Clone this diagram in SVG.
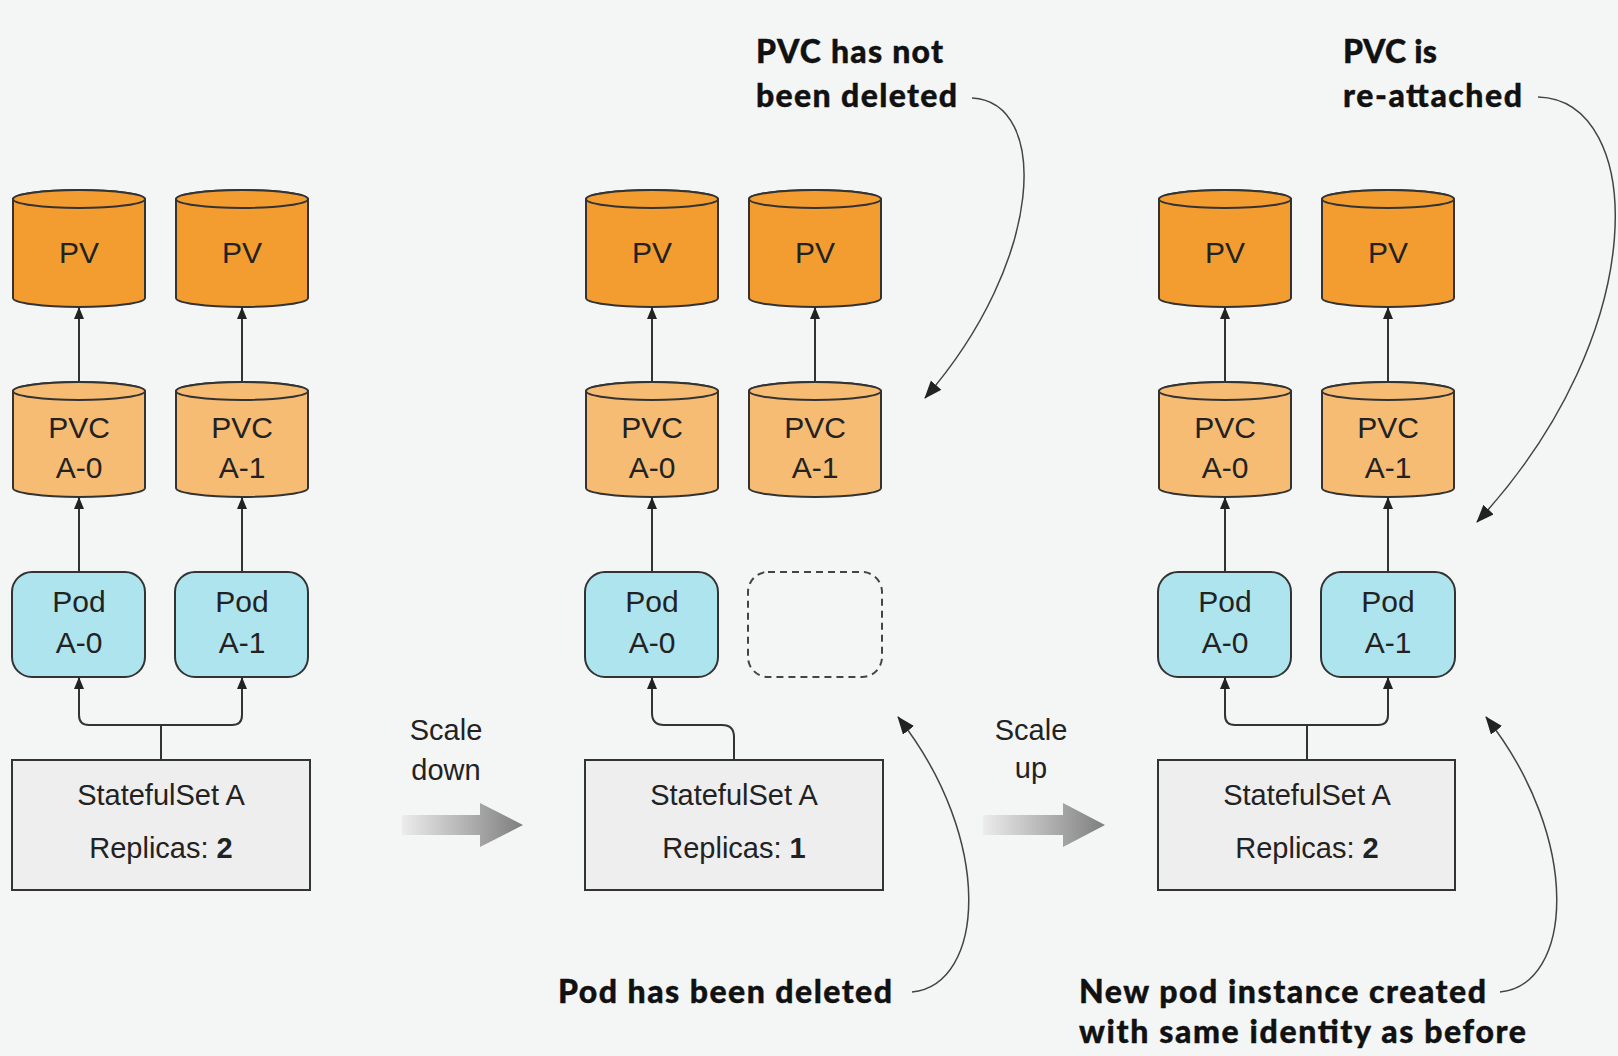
<svg xmlns="http://www.w3.org/2000/svg" width="1618" height="1056" viewBox="0 0 1618 1056">
<style>
.lbl{font-family:"Liberation Sans",Arial,sans-serif;font-size:30px;fill:#222;text-anchor:middle}
.ss{font-family:"Liberation Sans",Arial,sans-serif;font-size:29px;fill:#222;text-anchor:middle}
.note{font-family:Lato,"Open Sans",sans-serif;font-weight:900;font-size:32px;fill:#111;stroke:#111;stroke-width:0.4}
.pv{fill:#f39d31;stroke:#333;stroke-width:2}
.pvc{fill:#f6bc73;stroke:#333;stroke-width:2}
.pod{fill:#aee4ee;stroke:#333;stroke-width:2}
.ghost{fill:none;stroke:#444;stroke-width:2;stroke-dasharray:7 5}
.set{fill:#eeeeee;stroke:#333;stroke-width:2}
.conn{fill:none;stroke:#333;stroke-width:2}
.curve{fill:none;stroke:#444;stroke-width:1.5}
.big{fill:url(#grad)}
</style>
<defs>
<marker id="ah" markerUnits="userSpaceOnUse" markerWidth="12" markerHeight="10" refX="11" refY="5" orient="auto">
<path d="M0,0 L12,5 L0,10 Z" fill="#222"/>
</marker>
<marker id="ah2" markerUnits="userSpaceOnUse" markerWidth="18" markerHeight="14" refX="17" refY="7" orient="auto">
<path d="M0,0 L18,7 L0,14 Z" fill="#222"/>
</marker>
<linearGradient id="grad" x1="0" y1="0" x2="1" y2="0">
<stop offset="0" stop-color="#ececec"/>
<stop offset="1" stop-color="#7e7e7e"/>
</linearGradient>
</defs>
<rect x="0" y="0" width="1618" height="1056" fill="#f4f6f6"/>

<!-- Column 1 -->
<g id="c1-pv0"><path class="pv" d="M13,199 L13,298 A66,9 0 0 0 145,298 L145,199 A66,9 0 0 0 13,199 Z"/><ellipse class="pv" cx="79" cy="199" rx="66" ry="9"/><text class="lbl" x="79" y="263">PV</text></g>
<g id="c1-pv1"><path class="pv" d="M176,199 L176,298 A66,9 0 0 0 308,298 L308,199 A66,9 0 0 0 176,199 Z"/><ellipse class="pv" cx="242" cy="199" rx="66" ry="9"/><text class="lbl" x="242" y="263">PV</text></g>
<g id="c1-pvc0"><path class="pvc" d="M13,391 L13,488 A66,9 0 0 0 145,488 L145,391 A66,9 0 0 0 13,391 Z"/><ellipse class="pvc" cx="79" cy="391" rx="66" ry="9"/><text class="lbl" x="79" y="438">PVC</text><text class="lbl" x="79" y="478">A-0</text></g>
<g id="c1-pvc1"><path class="pvc" d="M176,391 L176,488 A66,9 0 0 0 308,488 L308,391 A66,9 0 0 0 176,391 Z"/><ellipse class="pvc" cx="242" cy="391" rx="66" ry="9"/><text class="lbl" x="242" y="438">PVC</text><text class="lbl" x="242" y="478">A-1</text></g>
<g id="c1-pod0"><rect class="pod" x="12" y="572" width="133" height="105" rx="20"/><text class="lbl" x="79" y="612">Pod</text><text class="lbl" x="79" y="653">A-0</text></g>
<g id="c1-pod1"><rect class="pod" x="175" y="572" width="133" height="105" rx="20"/><text class="lbl" x="242" y="612">Pod</text><text class="lbl" x="242" y="653">A-1</text></g>
<g id="c1-set"><rect class="set" x="12" y="760" width="298" height="130"/><text class="ss" x="161" y="805">StatefulSet A</text><text class="ss" x="161" y="858">Replicas: <tspan font-weight="bold">2</tspan></text></g>

<!-- Column 2 -->
<g id="c2-pv0"><path class="pv" d="M586,199 L586,298 A66,9 0 0 0 718,298 L718,199 A66,9 0 0 0 586,199 Z"/><ellipse class="pv" cx="652" cy="199" rx="66" ry="9"/><text class="lbl" x="652" y="263">PV</text></g>
<g id="c2-pv1"><path class="pv" d="M749,199 L749,298 A66,9 0 0 0 881,298 L881,199 A66,9 0 0 0 749,199 Z"/><ellipse class="pv" cx="815" cy="199" rx="66" ry="9"/><text class="lbl" x="815" y="263">PV</text></g>
<g id="c2-pvc0"><path class="pvc" d="M586,391 L586,488 A66,9 0 0 0 718,488 L718,391 A66,9 0 0 0 586,391 Z"/><ellipse class="pvc" cx="652" cy="391" rx="66" ry="9"/><text class="lbl" x="652" y="438">PVC</text><text class="lbl" x="652" y="478">A-0</text></g>
<g id="c2-pvc1"><path class="pvc" d="M749,391 L749,488 A66,9 0 0 0 881,488 L881,391 A66,9 0 0 0 749,391 Z"/><ellipse class="pvc" cx="815" cy="391" rx="66" ry="9"/><text class="lbl" x="815" y="438">PVC</text><text class="lbl" x="815" y="478">A-1</text></g>
<g id="c2-pod0"><rect class="pod" x="585" y="572" width="133" height="105" rx="20"/><text class="lbl" x="652" y="612">Pod</text><text class="lbl" x="652" y="653">A-0</text></g>
<g id="c2-deleted"><rect class="ghost" x="748" y="572" width="134" height="105" rx="20"/></g>
<g id="c2-set"><rect class="set" x="585" y="760" width="298" height="130"/><text class="ss" x="734" y="805">StatefulSet A</text><text class="ss" x="734" y="858">Replicas: <tspan font-weight="bold">1</tspan></text></g>

<!-- Column 3 -->
<g id="c3-pv0"><path class="pv" d="M1159,199 L1159,298 A66,9 0 0 0 1291,298 L1291,199 A66,9 0 0 0 1159,199 Z"/><ellipse class="pv" cx="1225" cy="199" rx="66" ry="9"/><text class="lbl" x="1225" y="263">PV</text></g>
<g id="c3-pv1"><path class="pv" d="M1322,199 L1322,298 A66,9 0 0 0 1454,298 L1454,199 A66,9 0 0 0 1322,199 Z"/><ellipse class="pv" cx="1388" cy="199" rx="66" ry="9"/><text class="lbl" x="1388" y="263">PV</text></g>
<g id="c3-pvc0"><path class="pvc" d="M1159,391 L1159,488 A66,9 0 0 0 1291,488 L1291,391 A66,9 0 0 0 1159,391 Z"/><ellipse class="pvc" cx="1225" cy="391" rx="66" ry="9"/><text class="lbl" x="1225" y="438">PVC</text><text class="lbl" x="1225" y="478">A-0</text></g>
<g id="c3-pvc1"><path class="pvc" d="M1322,391 L1322,488 A66,9 0 0 0 1454,488 L1454,391 A66,9 0 0 0 1322,391 Z"/><ellipse class="pvc" cx="1388" cy="391" rx="66" ry="9"/><text class="lbl" x="1388" y="438">PVC</text><text class="lbl" x="1388" y="478">A-1</text></g>
<g id="c3-pod0"><rect class="pod" x="1158" y="572" width="133" height="105" rx="20"/><text class="lbl" x="1225" y="612">Pod</text><text class="lbl" x="1225" y="653">A-0</text></g>
<g id="c3-pod1"><rect class="pod" x="1321" y="572" width="134" height="105" rx="20"/><text class="lbl" x="1388" y="612">Pod</text><text class="lbl" x="1388" y="653">A-1</text></g>
<g id="c3-set"><rect class="set" x="1158" y="760" width="297" height="130"/><text class="ss" x="1307" y="805">StatefulSet A</text><text class="ss" x="1307" y="858">Replicas: <tspan font-weight="bold">2</tspan></text></g>

<!-- Scale arrows -->
<g id="scale-down"><text class="ss" x="446" y="740" font-size="28">Scale</text><text class="ss" x="446" y="780" font-size="28">down</text><polygon class="big" points="402,815 480,815 480,803 523,825 480,847 480,835 402,835"/></g>
<g id="scale-up"><text class="ss" x="1031" y="740" font-size="28">Scale</text><text class="ss" x="1031" y="778" font-size="28">up</text><polygon class="big" points="983,815 1063,815 1063,803 1105,825 1063,847 1063,835 983,835"/></g>

<!-- Annotations -->
<g id="note-pvc-kept"><text class="note" x="756" y="63" textLength="187" lengthAdjust="spacing">PVC has not</text><text class="note" x="756" y="107" textLength="201" lengthAdjust="spacing">been deleted</text></g>
<g id="note-pvc-reattached"><text class="note" x="1343" y="63" textLength="94" lengthAdjust="spacing">PVC is</text><text class="note" x="1343" y="107" textLength="179" lengthAdjust="spacing">re-attached</text></g>
<g id="note-pod-deleted"><text class="note" x="558" y="1003" textLength="334" lengthAdjust="spacing">Pod has been deleted</text></g>
<g id="note-new-pod"><text class="note" x="1079" y="1003" textLength="407" lengthAdjust="spacing">New pod instance created</text><text class="note" x="1079" y="1043" textLength="447" lengthAdjust="spacing">with same identity as before</text></g>

<!-- Connectors -->
<g id="connectors">
<line class="conn" x1="79" y1="382" x2="79" y2="308" marker-end="url(#ah)"/>
<line class="conn" x1="242" y1="382" x2="242" y2="308" marker-end="url(#ah)"/>
<line class="conn" x1="79" y1="572" x2="79" y2="498" marker-end="url(#ah)"/>
<line class="conn" x1="242" y1="572" x2="242" y2="498" marker-end="url(#ah)"/>
<path class="conn" d="M161,760 V725 H89 Q79,725 79,715 V678" marker-end="url(#ah)"/>
<path class="conn" d="M161,725 H232 Q242,725 242,715 V678" marker-end="url(#ah)"/>

<line class="conn" x1="652" y1="382" x2="652" y2="308" marker-end="url(#ah)"/>
<line class="conn" x1="815" y1="382" x2="815" y2="308" marker-end="url(#ah)" stroke="#555"/>
<line class="conn" x1="652" y1="572" x2="652" y2="498" marker-end="url(#ah)"/>
<path class="conn" d="M734,760 V737 Q734,725 722,725 H664 Q652,725 652,713 V678" marker-end="url(#ah)"/>

<line class="conn" x1="1225" y1="382" x2="1225" y2="308" marker-end="url(#ah)"/>
<line class="conn" x1="1388" y1="382" x2="1388" y2="308" marker-end="url(#ah)"/>
<line class="conn" x1="1225" y1="572" x2="1225" y2="498" marker-end="url(#ah)"/>
<line class="conn" x1="1388" y1="572" x2="1388" y2="498" marker-end="url(#ah)"/>
<path class="conn" d="M1307,760 V725 H1235 Q1225,725 1225,715 V678" marker-end="url(#ah)"/>
<path class="conn" d="M1307,725 H1378 Q1388,725 1388,715 V678" marker-end="url(#ah)"/>

<path class="curve" d="M972,98 C1050,102 1045,260 925,398" marker-end="url(#ah2)"/>
<path class="curve" d="M1538,97 C1645,100 1655,330 1477,522" marker-end="url(#ah2)"/>
<path class="curve" d="M912,992 C985,985 995,840 898,717" marker-end="url(#ah2)"/>
<path class="curve" d="M1500,992 C1573,985 1583,840 1486,717" marker-end="url(#ah2)"/>
</g>
</svg>
